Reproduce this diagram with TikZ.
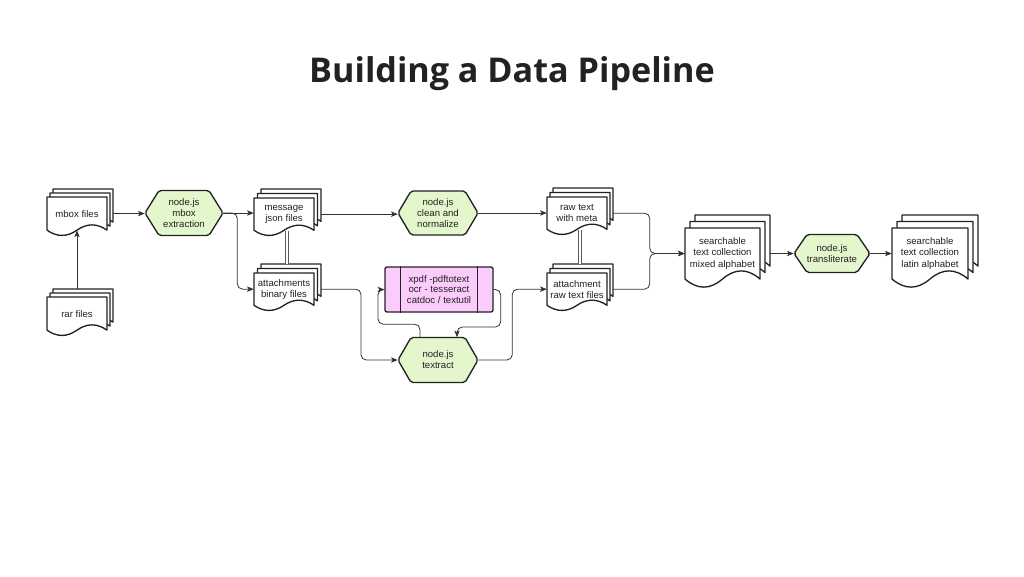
\documentclass[tikz,border=0pt]{standalone}
\usepackage{fontspec}
\setmainfont{Liberation Sans}
\newfontfamily\titlefont{Open Sans}
\usetikzlibrary{arrows.meta,calc}
\definecolor{hexgreen}{HTML}{E4F6CB}
\definecolor{pinkfill}{HTML}{FBCBFB}
\definecolor{ink}{HTML}{222222}
\def\u{0.75pt}
\tikzset{
  docshape/.style={draw=ink, line width=1pt, fill=white, line join=round},
  doctext/.style={inner sep=0pt, align=center, text=ink, font=\fontsize{7.2}{8.3}\selectfont},
  hexshape/.style={draw=ink, line width=1pt, fill=hexgreen, rounded corners=1.5pt, line join=round},
  hextext/.style={inner sep=0pt, align=center, text=ink, font=\fontsize{7.2}{8.3}\selectfont},
  pinkbox/.style={draw=ink, line width=1pt, fill=pinkfill, rounded corners=1.5pt, inner sep=0pt,
    align=center, text=ink, font=\fontsize{7.2}{8}\selectfont, minimum width=108*\u, minimum height=45*\u},
  conn/.style={draw=black!80, line width=0.6pt, rounded corners=4pt, -{Stealth[length=5pt,width=4pt,inset=1.2pt]}},
  dbl/.style={draw=black!65, line width=0.5pt, double=white, double distance=1.4pt},
}
\newcommand\docpath[4]{({#1},{#2}) -- ({#1+#3},{#2}) -- ({#1+#3},{#2+0.85*#4}) .. controls ({#1+0.8333*#3},{#2+0.67*#4}) and ({#1+0.6667*#3},{#2+0.67*#4}) .. ({#1+0.5*#3},{#2+0.85*#4}) .. controls ({#1+0.3333*#3},{#2+1.03*#4}) and ({#1+0.1667*#3},{#2+1.03*#4}) .. ({#1},{#2+0.85*#4}) -- cycle}
\newcommand\docstack[8]{%
  \foreach \i in {2,1,0}{\draw[docshape] \docpath{#2+\i*#6}{#3-\i*#7}{#4}{#5};}
  \node[doctext, minimum width=#4*\u, minimum height=0.85*#5*\u] (#1) at ({#2+#4/2},{#3+0.425*#5}) {#8};
  \coordinate (#1r) at ({#2+#4+2*#6},{#3+0.425*#5});
}
\newcommand\hexnode[7]{% name cx cy w h inset text
  \draw[hexshape] ({#2-#4/2},{#3}) -- ({#2-#4/2+#6},{#3-#5/2}) -- ({#2+#4/2-#6},{#3-#5/2}) -- ({#2+#4/2},{#3}) -- ({#2+#4/2-#6},{#3+#5/2}) -- ({#2-#4/2+#6},{#3+#5/2}) -- cycle;
  \node[hextext, minimum width=#4*\u, minimum height=#5*\u] (#1) at (#2,#3) {#7};
}
\begin{document}
\begin{tikzpicture}[x=0.75pt, y=-0.75pt]
\fill[white] (0,0) rectangle (1024,576);
\useasboundingbox (0,0) rectangle (1024,576);

\node[anchor=base, text=ink, font=\titlefont\bfseries\fontsize{25.6}{30}\selectfont] (title) at (512,82) {Building a Data Pipeline};

% documents
\docstack{mbox}{47}{197}{60}{39}{3}{4}{mbox files}
\docstack{rar}{47}{297}{60}{39}{3}{4}{rar files}
\docstack{msg}{254}{198}{60}{38}{3.5}{4.5}{message\\json files}
\docstack{att}{254}{273}{60}{38}{3.5}{4.5}{attachments\\binary files}
\docstack{rawmeta}{547}{197}{60}{38}{3}{4.5}{raw text\\with meta}
\docstack{rawatt}{547}{273}{60}{38}{3}{4.5}{attachment\\raw text files}
\docstack{mixed}{685}{228}{75}{60}{5}{6.5}{searchable\\text collection\\mixed alphabet}
\docstack{latin}{892}{228}{76}{60}{5}{6.5}{searchable\\text collection\\latin alphabet}

% hexagons
\hexnode{hexmbox}{184}{213}{78}{45}{14}{node.js\\mbox\\extraction}
\hexnode{clean}{438}{213}{80}{44}{13}{node.js\\clean and\\normalize}
\hexnode{textract}{438}{360}{80}{45}{13}{node.js\\textract}
\hexnode{translit}{832}{253.5}{76}{38}{13}{node.js\\transliterate}

% pink tools box
\node[pinkbox] (pink) at (439,289.5) {xpdf -pdftotext\\ocr - tesseract\\catdoc / textutil};
\draw[draw=ink, line width=1pt] ([xshift=16*\u]pink.south west) -- ([xshift=16*\u]pink.north west);
\draw[draw=ink, line width=1pt] ([xshift=-16*\u]pink.south east) -- ([xshift=-16*\u]pink.north east);

% connectors
\draw[conn] ([yshift=6pt]rar.north) -- (mbox.south);
\draw[conn] (mboxr) -- (mboxr -| hexmbox.west);
\draw[conn] (hexmbox.east) -- (hexmbox.east -| msg.west);
\draw[conn] (hexmbox.east) -- ++(14,0) |- (att.west);
\draw[dbl] ([xshift=2.25pt]msg.south) -- ([xshift=2.25pt,yshift=6.5pt]att.north);
\draw[conn] (msgr) -- (msgr -| clean.west);
\draw[conn] (clean.east) -- (clean.east -| rawmeta.west);
\draw[dbl] ([xshift=2.25pt]rawmeta.south) -- ([xshift=2.25pt,yshift=6.5pt]rawatt.north);
\coordinate (jn) at ([xshift=-26.25pt]mixed.west);
\draw[conn] (rawmetar) -| (jn) -- (mixed.west);
\draw[conn] (rawattr) -| (jn) -- (mixed.west);
\draw[conn] (attr) -- ++(40,0) |- (textract.west);
\draw[conn] ([xshift=-13.5pt]textract.north) -- ++(0,-13) -- ++(-42,0) |- (pink.west);
\draw[conn] (pink.east) -- ++(7,0) -- ++(0,37.5) -| ([xshift=14.25pt]textract.north);
\draw[conn] (textract.east) -- ++(34,0) |- (rawatt.west);
\draw[conn] (mixedr) -- (mixedr -| translit.west);
\draw[conn] (translit.east) -- (translit.east -| latin.west);
\end{tikzpicture}
\end{document}
